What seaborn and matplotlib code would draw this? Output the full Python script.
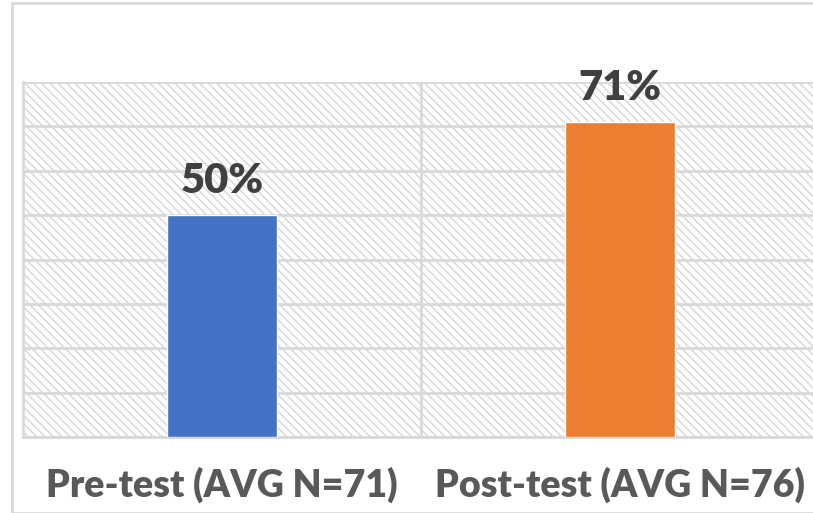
import matplotlib
matplotlib.use('Agg')
import matplotlib.pyplot as plt
from matplotlib.patches import Rectangle
import seaborn as sns
import pandas as pd

# data
groups = ['Pre-test (AVG N=71)', 'Post-test (AVG N=76)']
scores = [50, 71]
colors = ['#4472C4', '#ED7D31']

df = pd.DataFrame({'group': groups, 'score': scores})

sns.set_style('white')
plt.rcParams['font.family'] = ['Lato', 'DejaVu Sans']
plt.rcParams['hatch.linewidth'] = 1.0

fig = plt.figure(figsize=(8.13, 5.13), dpi=100)
ax = fig.add_axes([23 / 813, 1 - 437 / 513, 796 / 813, 355 / 513])

# hatched plot background
ax.add_patch(Rectangle((0, 0), 1, 1, transform=ax.transAxes, facecolor='white',
                       edgecolor='#d6d6d6', hatch='\\\\\\\\', linewidth=0, zorder=0))

sns.barplot(data=df, x='group', y='score', hue='group', palette=colors, saturation=1,
            width=0.275, legend=False, ax=ax, zorder=3)

ax.set_xlim(-0.5, 1.5)
ax.set_ylim(0, 80)
ax.set_yticks(range(0, 81, 10))
ax.set_yticklabels([])
ax.tick_params(axis='y', length=0)
ax.set_xticks(range(len(groups)), groups, fontsize=27, fontweight='heavy', color='#595959')
ax.tick_params(axis='x', length=0, pad=21)
ax.set_xlabel('')
ax.set_ylabel('')

ax.grid(axis='y', color='#d9d9d9', linewidth=2, zorder=1)
ax.set_axisbelow(True)
ax.axvline(0.5, color='#d9d9d9', linewidth=2, zorder=1)
for side in ['left', 'bottom', 'top', 'right']:
    ax.spines[side].set_color('#d9d9d9')
    ax.spines[side].set_linewidth(2)
ax.spines['top'].set_visible(False)

for i, v in enumerate(scores):
    ax.annotate(f'{v}%', (i, v), xytext=(0, 11), textcoords='offset points',
                ha='center', va='bottom', fontsize=30, fontweight='heavy', color='#404040')

# outer chart border
fig.patches.append(Rectangle((12 / 813, 0), 1, 1 - 3 / 513, transform=fig.transFigure,
                             fill=False, edgecolor='#d9d9d9', linewidth=2))

fig.savefig('out.png', dpi=100)
